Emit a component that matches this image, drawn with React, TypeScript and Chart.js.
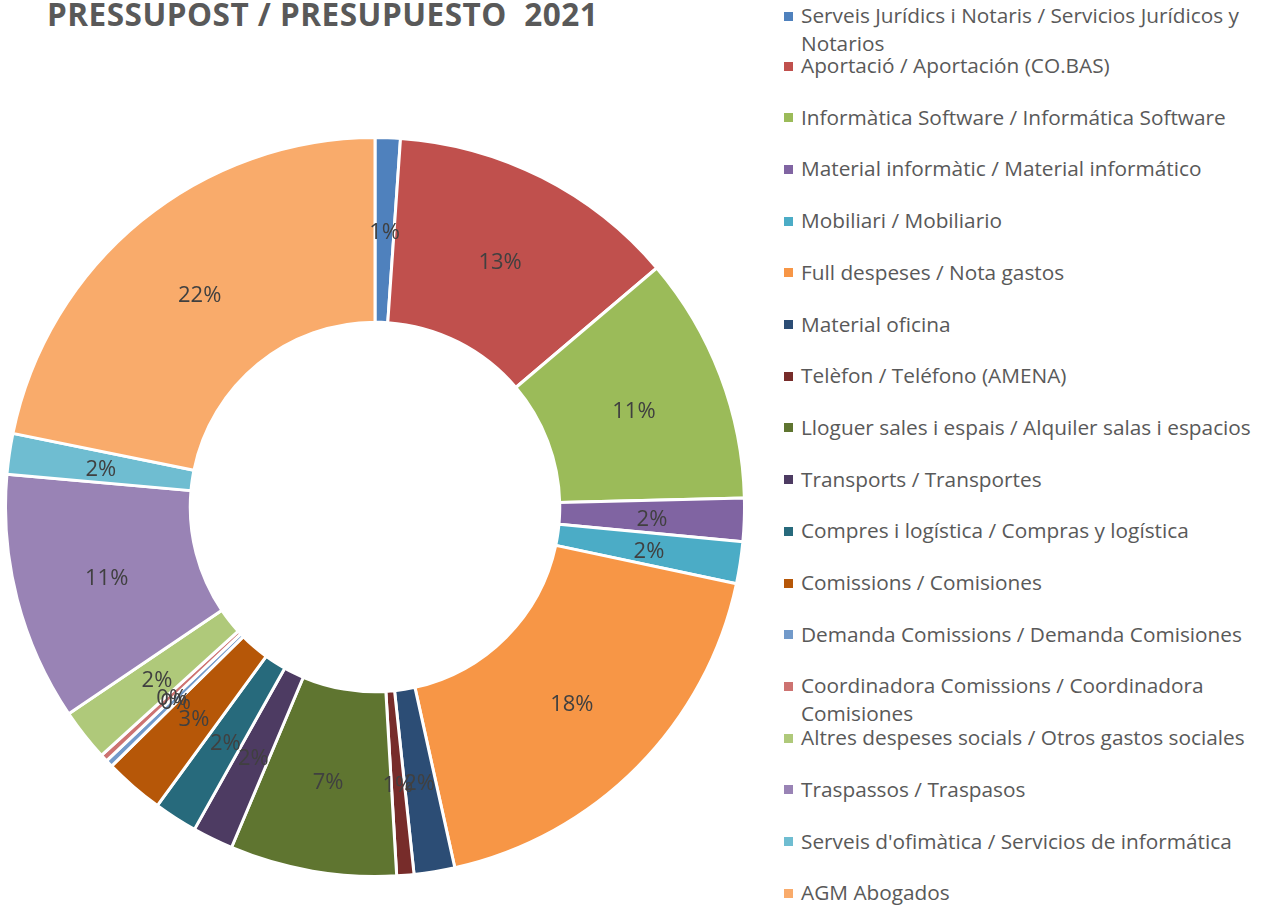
import React, { useEffect, useRef } from "react";
import { Chart, registerables } from "chart.js";

Chart.register(...registerables);

const titleText = "PRESSUPOST / PRESUPUESTO  2021";

const categories: string[][] = [
  ["Serveis Jurídics i Notaris / Servicios Jurídicos y", "Notarios"],
  ["Aportació / Aportación (CO.BAS)"],
  ["Informàtica Software / Informática Software"],
  ["Material informàtic / Material informático"],
  ["Mobiliari / Mobiliario"],
  ["Full despeses / Nota gastos"],
  ["Material oficina"],
  ["Telèfon / Teléfono (AMENA)"],
  ["Lloguer sales i espais / Alquiler salas i espacios"],
  ["Transports / Transportes"],
  ["Compres i logística / Compras y logística"],
  ["Comissions / Comisiones"],
  ["Demanda Comissions / Demanda Comisiones"],
  ["Coordinadora Comissions / Coordinadora", "Comisiones"],
  ["Altres despeses socials / Otros gastos sociales"],
  ["Traspassos / Traspasos"],
  ["Serveis d'ofimàtica / Servicios de informática"],
  ["AGM Abogados"],
];

const values: number[] = [
  1.1, 12.7, 10.8, 1.89, 1.83, 18.2, 1.78, 0.75, 7.28, 1.78, 1.9, 2.6, 0.32,
  0.32, 2.28, 10.86, 1.78, 21.8,
];

const colors: string[] = [
  "#4F81BD",
  "#C0504D",
  "#9BBB59",
  "#8064A2",
  "#4BACC6",
  "#F79646",
  "#2C4D75",
  "#772C2A",
  "#5F7530",
  "#4D3B62",
  "#276A7C",
  "#B65708",
  "#729ACA",
  "#CD7371",
  "#AFC97A",
  "#9983B5",
  "#6FBDD1",
  "#F9AB6B",
];

const pctLabelPlugin = {
  id: "pctLabels",
  afterDatasetsDraw(chart: any) {
    const ctx = chart.ctx;
    const meta = chart.getDatasetMeta(0);
    const data = chart.data.datasets[0].data as number[];
    const total = data.reduce((a, b) => a + b, 0);
    ctx.save();
    ctx.font = '22px "Open Sans"';
    ctx.fillStyle = "#404040";
    ctx.textAlign = "center";
    ctx.textBaseline = "middle";
    meta.data.forEach((arc: any, i: number) => {
      const p = arc.tooltipPosition(false);
      ctx.fillText(Math.round((data[i] / total) * 100) + "%", p.x, p.y + 3);
    });
    ctx.restore();
  },
};

function Legend() {
  const firstBaseline = 24;
  const secondBaseline = 74;
  const step = 51.7;
  const lineH = 27.7;
  const fontSize = 20.8;
  const baselineOffset = (lineH - 1.362 * fontSize) / 2 + 1.069 * fontSize;
  return (
    <>
      {categories.map((lines, i) => {
        const baseline = i === 0 ? firstBaseline : secondBaseline + (i - 1) * step;
        return (
          <React.Fragment key={i}>
            <div
              style={{
                position: "absolute",
                left: 784,
                top: baseline - 12.5,
                width: 9,
                height: 9,
                background: colors[i],
              }}
            />
            <div
              style={{
                position: "absolute",
                left: 801,
                top: baseline - baselineOffset,
                fontFamily: '"Open Sans"',
                fontSize: fontSize,
                lineHeight: lineH + "px",
                color: "#595959",
                whiteSpace: "nowrap",
              }}
            >
              {lines.map((l, j) => (
                <div key={j}>{l}</div>
              ))}
            </div>
          </React.Fragment>
        );
      })}
    </>
  );
}

export default function App() {
  const canvasRef = useRef<HTMLCanvasElement | null>(null);

  useEffect(() => {
    if (!canvasRef.current) return;
    const chart = new Chart(canvasRef.current, {
      type: "doughnut",
      data: {
        labels: categories.map((l) => l.join(" ")),
        datasets: [
          {
            data: values,
            backgroundColor: colors,
            borderColor: "#FFFFFF",
            borderWidth: 3,
          },
        ],
      },
      options: {
        responsive: false,
        animation: false,
        cutout: "50%",
        layout: { padding: 0 },
        plugins: {
          legend: { display: false },
          tooltip: { enabled: false },
          title: { display: false },
        },
      },
      plugins: [pctLabelPlugin],
    });
    return () => chart.destroy();
  }, []);

  return (
    <div
      style={{
        position: "fixed",
        left: 0,
        top: 0,
        width: 1266,
        height: 911,
        background: "#FFFFFF",
        overflow: "hidden",
      }}
    >
      <div
        style={{
          position: "absolute",
          left: 47,
          top: -2,
          fontFamily: '"Open Sans"',
          fontWeight: 700,
          fontSize: 31.5,
          letterSpacing: "0.5px",
          lineHeight: "31px",
          color: "#595959",
          whiteSpace: "pre",
        }}
      >
        {titleText}
      </div>
      <canvas
        ref={canvasRef}
        width={742}
        height={742}
        style={{ position: "absolute", left: 4, top: 136, width: 742, height: 742 }}
      />
      <Legend />
    </div>
  );
}
